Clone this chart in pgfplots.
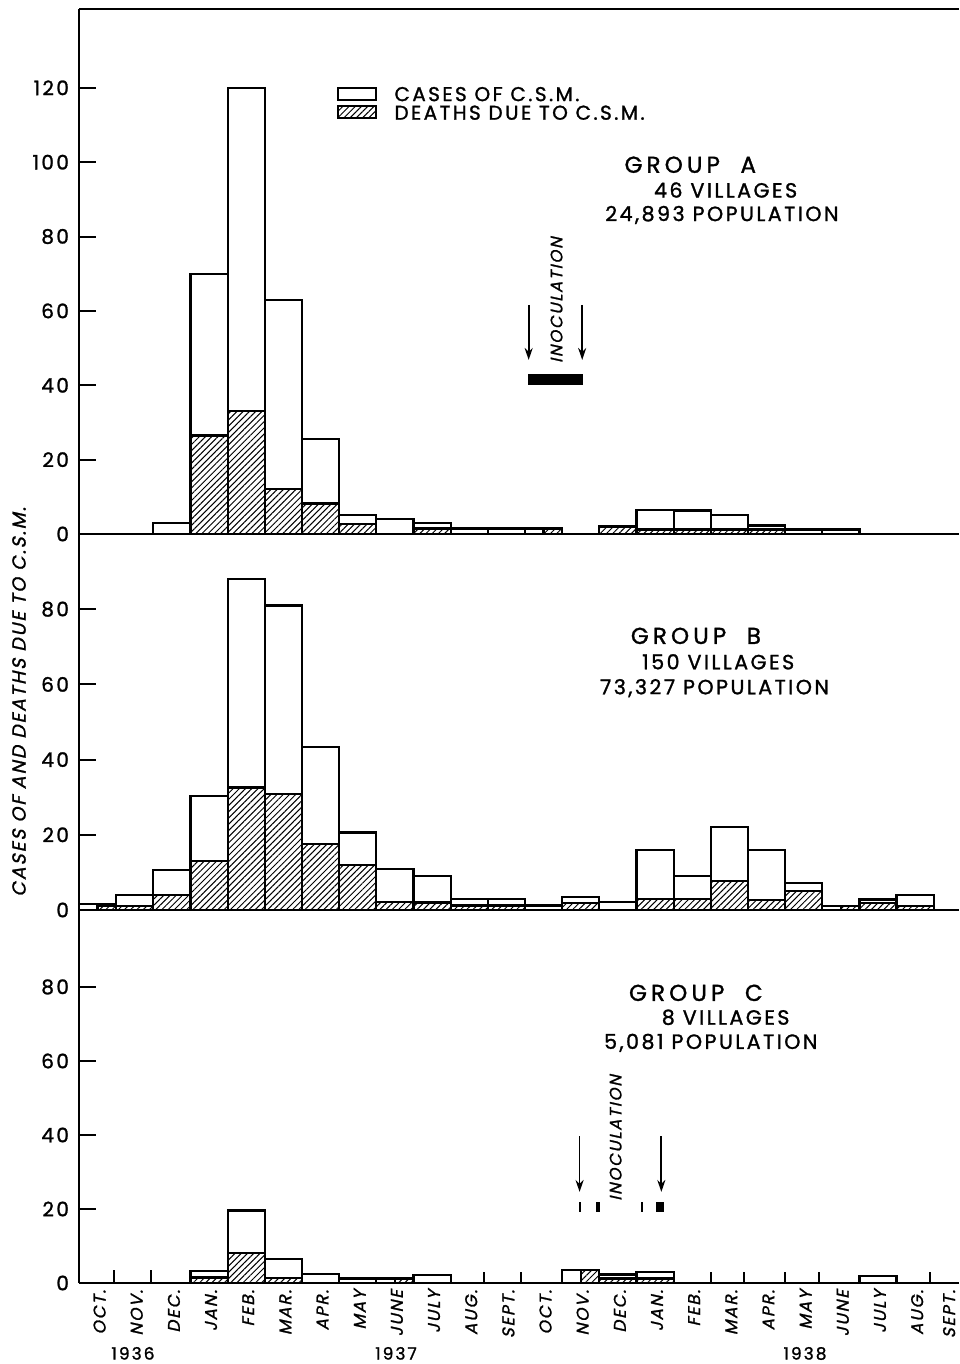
\documentclass[border=0pt]{standalone}
\usepackage{fontspec}
\setmainfont{Poppins}
\newfontfamily\lettering[LetterSpace=12,FakeBold=1.3]{Poppins}
\newfontfamily\titlefont[LetterSpace=18,FakeBold=1.3]{Poppins}
\newfontfamily\slanted[FakeSlant=0.22,LetterSpace=10,FakeBold=1.3]{Poppins}
\usepackage{pgfplots}
\pgfplotsset{compat=1.18}
\usetikzlibrary{patterns.meta,arrows.meta}

% month index m: 0 = Oct 1936 ... 23 = Sept 1938; bars centred at m+0.5
\pgfplotstableread{
x cases deaths
2.5 3 0
3.5 70 26.5
4.5 120 33
5.5 63 12.2
6.5 25.5 8.2
7.5 5 2.6
8.5 4 0
9.5 3 1.5
10.5 1.5 0
11.5 1.5 0
12.5 1.5 0
14.5 2 2
15.5 6.5 1.2
16.5 6.3 1.2
17.5 5 1.2
18.5 2.3 1.2
19.5 1.2 0
20.5 1.2 0
}\groupA

\pgfplotstableread{
x cases deaths
0.5 1.5 0
1.5 4 1
2.5 10.7 4
3.5 30.3 13
4.5 88 32.6
5.5 81 30.8
6.5 43.3 17.6
7.5 20.6 11.9
8.5 11 2.2
9.5 9 2
10.5 3 1.2
11.5 3 1.2
12.5 1.2 0
13.5 3.5 1.9
14.5 2.2 0
15.5 16 3
16.5 9 3
17.5 22 7.8
18.5 16 2.6
19.5 7.2 5
20.5 1 0
21.5 2.8 1.9
22.5 4 1
}\groupB

\pgfplotstableread{
x cases deaths
3.5 3.3 1.5
4.5 19.6 8
5.5 6.5 1.4
6.5 2.5 0
7.5 1.2 0
8.5 1.2 0
9.5 2.2 0
13.5 3.6 0
14.5 2.3 1.2
15.5 3 1.2
21.5 2 0
}\groupC

\pgfplotsset{
  panel/.style={scale only axis, width=440pt, xmin=0, xmax=23.68, ymin=0,
    axis x line*=bottom, axis y line*=left, axis line style={line width=1pt},
    tick style={line width=1pt, black}, major tick length=8.5pt, tick align=inside,
    xtick=\empty, clip=false, anchor=south west,
    /pgf/number format/assume math mode=true,
    yticklabel style={font=\lettering\fontsize{10}{11}\selectfont, xshift=-1.5pt}},
  cases/.style={ybar, bar width=1, bar shift=0pt, draw=black, line width=1.1pt, fill=white},
  deaths/.style={ybar, bar width=1, bar shift=0pt, draw=black, line width=1.1pt,
    pattern={Lines[angle=45,distance=2.2pt,line width=0.5pt]}},
  halfdeaths/.style={deaths, bar width=0.5},
}
\tikzset{
  grouptitle/.style={font=\titlefont\fontsize{11.5}{13}\selectfont},
  groupsub/.style={font=\lettering\fontsize{10.3}{12}\selectfont},
  legendtext/.style={anchor=west, font=\lettering\fontsize{10}{11}\selectfont},
  inoc/.style={font=\slanted\fontsize{8.3}{9}\selectfont, rotate=90},
  inarrow/.style={line width=0.9pt, -{Stealth[length=6pt,width=4pt]}},
  year/.style={font=\lettering\fontsize{8.5}{10}\selectfont, anchor=base, inner sep=0pt},
}

\begin{document}
\begin{tikzpicture}
\useasboundingbox (0,0) rectangle (479.5pt,682pt);

% ---------- GROUP A ----------
\begin{axis}[panel, at={(39.5pt,415pt)}, height=262.5pt, ymax=141.2, ytick={0,20,...,120}]
\addplot[cases] table[x=x,y=cases] {\groupA};
\addplot[deaths] table[x=x,y=deaths] {\groupA};
\addplot[halfdeaths] coordinates {(12.75,1.5)};
\draw[line width=1pt] (rel axis cs:0,1) -- (rel axis cs:1,1);
% legend
\draw[line width=1pt, fill=white] (axis cs:6.96,116.6) rectangle (axis cs:7.98,120);
\draw[line width=1pt, pattern={Lines[angle=45,distance=2.2pt,line width=0.5pt]}] (axis cs:6.96,111.8) rectangle (axis cs:7.98,115.2);
\node[legendtext] at (axis cs:8.3,118.3) {CASES OF C.S.M.};
\node[legendtext] at (axis cs:8.3,113.3) {DEATHS DUE TO C.S.M.};
% titles
\node[grouptitle] at (axis cs:16.45,99.3) {GROUP \ A};
\node[groupsub] at (axis cs:17.4,92.5) {46 VILLAGES};
\node[groupsub] at (axis cs:17.3,85.8) {24,893 POPULATION};
% inoculation
\draw[inarrow] (axis cs:12.1,61.6) -- (axis cs:12.1,46.8);
\draw[inarrow] (axis cs:13.54,61.6) -- (axis cs:13.54,46.8);
\node[inoc] at (axis cs:12.85,62.9) {INOCULATION};
\fill (axis cs:12.08,40.2) rectangle (axis cs:13.57,42.9);
\end{axis}

% ---------- GROUP B ----------
\begin{axis}[panel, at={(39.5pt,227pt)}, height=188pt, ymax=100, ytick={0,20,...,80}]
\addplot[cases] table[x=x,y=cases] {\groupB};
\addplot[deaths] table[x=x,y=deaths] {\groupB};
\addplot[halfdeaths] coordinates {(0.75,1) (20.75,1)};
\node[grouptitle] at (axis cs:16.6,72.9) {GROUP \ B};
\node[groupsub] at (axis cs:17.2,66) {150 VILLAGES};
\node[groupsub] at (axis cs:17.1,59) {73,327 POPULATION};
\end{axis}

% ---------- GROUP C ----------
\begin{axis}[panel, at={(39.5pt,40.5pt)}, height=186.5pt, ymax=100.8, ytick={0,20,...,80},
  xtick={0.5,1.5,...,22.5,23.36}, major x tick style={draw=none},
  xticklabels={OCT.,NOV.,DEC.,JAN.,FEB.,MAR.,APR.,MAY,JUNE,JULY,AUG.,SEPT.,OCT.,NOV.,DEC.,JAN.,FEB.,MAR.,APR.,MAY,JUNE,JULY,AUG.,SEPT.},
  xticklabel style={rotate=90, anchor=east, font=\slanted\fontsize{8.5}{10}\selectfont, yshift=-1pt}]
\addplot[cases] table[x=x,y=cases] {\groupC};
\addplot[deaths] table[x=x,y=deaths] {\groupC};
\addplot[halfdeaths] coordinates {(8.75,1.2) (13.75,3.6)};
\addplot[ycomb, line width=1pt, no marks] coordinates {(0.94,3.5) (1.94,3.5) (10.9,3) (11.9,3) (17,3) (17.9,3) (19,3) (19.9,3) (22.9,3)};
\node[grouptitle] at (axis cs:16.6,78.4) {GROUP \ C};
\node[groupsub] at (axis cs:17.4,71.8) {8 VILLAGES};
\node[groupsub] at (axis cs:17.0,64.9) {5,081 POPULATION};
\draw[inarrow] (axis cs:13.47,39.6) -- (axis cs:13.47,24.6);
\draw[inarrow] (axis cs:15.67,39.6) -- (axis cs:15.67,24.6);
\node[inoc] at (axis cs:14.44,39.2) {INOCULATION};
\fill (axis cs:13.46,19.2) rectangle (axis cs:13.51,21.8);
\fill (axis cs:13.92,19.2) rectangle (axis cs:14.01,21.8);
\fill (axis cs:15.11,19.2) rectangle (axis cs:15.17,21.8);
\fill (axis cs:15.53,19.2) rectangle (axis cs:15.75,21.8);
\end{axis}

% axis title and years
\node[rotate=90, font=\slanted\fontsize{9.5}{10}\selectfont] at (9.5pt,331pt) {CASES OF AND DEATHS DUE TO C.S.M.};
\node[year] at (66.5pt,2.2pt) {1936};
\node[year] at (198pt,2.2pt) {1937};
\node[year] at (402.5pt,2.2pt) {1938};
\end{tikzpicture}
\end{document}
